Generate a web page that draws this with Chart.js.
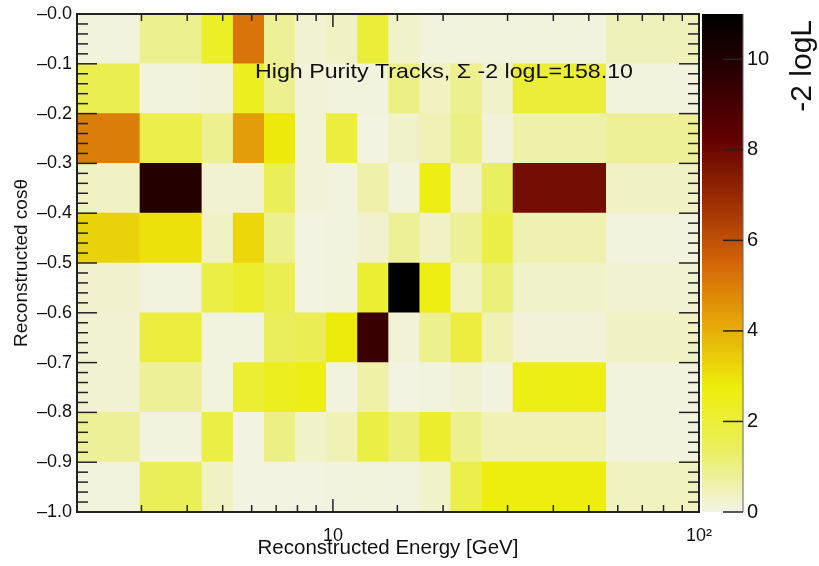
<!DOCTYPE html>
<html>
<head>
<meta charset="utf-8">
<script src="https://cdn.jsdelivr.net/npm/chart.js@4.4.1/dist/chart.umd.min.js"></script>
<style>
  html, body { margin: 0; padding: 0; background: #fff; }
  #wrap { width: 819px; height: 566px; }
</style>
</head>
<body>
<div id="wrap"><canvas id="heatmap" width="819" height="566"></canvas></div>
<script>
// rows of reconstructed cos(theta), top (-0.0..-0.1) to bottom (-0.9..-1.0)
const cosRows = ['-0.05', '-0.15', '-0.25', '-0.35', '-0.45', '-0.55', '-0.65', '-0.75', '-0.85', '-0.95'];

// reconstructed energy bin edges [GeV]
const energyEdges = [2, 2.96, 4.37, 5.32, 6.47, 7.86, 9.56, 11.63, 14.14, 17.2, 20.91, 25.43, 30.92, 55.61, 100];

// -2 logL per cell, one array per cos row, one value per energy bin
const row0 = [0.1, 0.9, 2.3, 5.2, 0.8, 0.2, 0.35, 2.0, 0.3, 0.1, 0.1, 0.1, 0.1, 0.45];
const row1 = [1.6, 0.1, 0.15, 2.45, 0.9, 0.15, 0.1, 0.1, 1.0, 0.4, 0.9, 0.3, 2.0, 0.1];
const row2 = [5.0, 1.7, 0.9, 4.35, 2.85, 0.15, 1.9, 0.05, 0.3, 0.5, 1.0, 0.15, 0.6, 0.8];
const row3 = [0.35, 9.9, 0.2, 0.2, 1.5, 0.15, 0.1, 0.6, 0.1, 2.6, 0.25, 1.35, 7.85, 0.35];
const row4 = [3.3, 3.0, 0.35, 3.2, 0.9, 0.05, 0.1, 0.25, 0.8, 0.35, 0.8, 1.8, 0.55, 0.1];
const row5 = [0.25, 0.08, 1.8, 2.2, 1.6, 0.05, 0.1, 2.1, 11.0, 2.65, 0.4, 1.1, 0.3, 0.2];
const row6 = [0.2, 1.9, 0.08, 0.08, 1.4, 1.55, 2.8, 9.35, 0.15, 0.9, 1.9, 0.5, 0.15, 0.35];
const row7 = [0.2, 0.8, 0.1, 2.1, 2.4, 2.6, 0.08, 0.65, 0.05, 0.08, 0.2, 0.08, 2.6, 0.1];
const row8 = [0.8, 0.1, 1.8, 0.05, 1.0, 0.3, 0.5, 1.8, 1.1, 2.2, 0.9, 0.5, 0.5, 0.1];
const row9 = [0.1, 1.5, 0.35, 0.05, 0.05, 0.05, 0.08, 0.1, 0.08, 0.3, 1.7, 2.7, 2.7, 0.4];
const logL = [row0, row1, row2, row3, row4, row5, row6, row7, row8, row9];

// colour axis
const zMax = 11;
const zTicks = [0, 2, 4, 6, 8, 10];
const paletteStops = [0, 0.125, 0.25, 0.375, 0.5, 0.625, 0.75, 0.875, 1];
const paletteColors = [
  [242, 243, 230], [234, 238, 95], [237, 238, 11], [230, 168, 8], [212, 101, 9],
  [156, 45, 3], [99, 0, 1], [45, 0, 1], [0, 0, 0]
];

const rgb = c => `rgb(${c[0]},${c[1]},${c[2]})`;

function colorFor(v) {
  let t = Math.min(Math.max(v / zMax, 0), 1);
  for (let i = 1; i < paletteStops.length; i++) {
    if (t <= paletteStops[i]) {
      const f = (t - paletteStops[i - 1]) / (paletteStops[i] - paletteStops[i - 1]);
      const a = paletteColors[i - 1], b = paletteColors[i];
      return rgb([0, 1, 2].map(k => Math.round(a[k] + (b[k] - a[k]) * f)));
    }
  }
  return rgb(paletteColors[paletteColors.length - 1]);
}

// one floating-bar dataset per energy bin
const datasets = [];
for (let c = 0; c < energyEdges.length - 1; c++) {
  datasets.push({
    label: 'E bin ' + c,
    data: logL.map(() => [energyEdges[c], energyEdges[c + 1]]),
    backgroundColor: logL.map(r => colorFor(r[c])),
    borderWidth: 0,
    grouped: false,
    barPercentage: 1,
    categoryPercentage: 1
  });
}

const FONT = "'Liberation Sans', Arial, Helvetica, sans-serif";

// frame, inward ticks, text label and colour bar
const framePlugin = {
  id: 'frame',
  afterDatasetsDraw(chart) {
    const {ctx, chartArea: a, scales} = chart;
    const line = (x1, y1, x2, y2) => { ctx.beginPath(); ctx.moveTo(x1, y1); ctx.lineTo(x2, y2); ctx.stroke(); };
    ctx.save();
    ctx.strokeStyle = '#222';
    ctx.lineWidth = 1.5;

    scales.x.ticks.forEach(t => {
      if (t.value <= scales.x.min || t.value >= scales.x.max) return;
      const px = scales.x.getPixelForValue(t.value);
      const len = (t.value === 10) ? 13 : 7;
      line(px, a.bottom, px, a.bottom - len);
      line(px, a.top, px, a.top + len);
    });

    for (let i = 1; i < 50; i++) {
      const py = scales.yv.getPixelForValue(-1 + i * 0.02);
      const len = (i % 5 === 0) ? 20 : 11;
      line(a.left, py, a.left + len, py);
      line(a.right, py, a.right - len, py);
    }

    ctx.lineWidth = 2;
    ctx.strokeRect(a.left, a.top, a.right - a.left, a.bottom - a.top);

    // label inside the frame (the reference text runs a little wide)
    const label = 'High Purity Tracks, \u03A3 -2 logL=158.10';
    ctx.fillStyle = '#111';
    ctx.font = '21px ' + FONT;
    ctx.textBaseline = 'alphabetic';
    ctx.textAlign = 'left';
    const sx = 378 / ctx.measureText(label).width;
    ctx.save();
    ctx.translate(a.left + 178, a.top + 64);
    ctx.scale(sx, 1);
    ctx.fillText(label, 0, 0);
    ctx.restore();

    // colour bar
    const cb = scales.cb;
    const x0 = a.right + 3, x1 = a.right + 44;
    const yLo = cb.getPixelForValue(0), yHi = cb.getPixelForValue(zMax);
    const grad = ctx.createLinearGradient(0, yLo, 0, yHi);
    paletteStops.forEach((s, i) => grad.addColorStop(s, rgb(paletteColors[i])));
    ctx.fillStyle = grad;
    ctx.fillRect(x0, yHi, x1 - x0, yLo - yHi);
    ctx.strokeStyle = '#666';
    ctx.lineWidth = 1;
    line(x1, yHi, x1, yLo);
    ctx.strokeStyle = '#222';
    ctx.lineWidth = 1.5;
    zTicks.forEach(v => {
      const py = cb.getPixelForValue(v);
      line(x1 - 20, py, x1, py);
    });

    // colour bar title
    ctx.translate(811, yHi + 6);
    ctx.rotate(-Math.PI / 2);
    ctx.font = '30px ' + FONT;
    ctx.fillStyle = '#111';
    ctx.textAlign = 'right';
    ctx.textBaseline = 'alphabetic';
    ctx.fillText('-2 logL', 0, 0);
    ctx.restore();
  }
};

Chart.defaults.font.family = FONT;
Chart.defaults.color = '#111';

new Chart(document.getElementById('heatmap'), {
  type: 'bar',
  data: { labels: cosRows, datasets: datasets },
  plugins: [framePlugin],
  options: {
    indexAxis: 'y',
    responsive: false,
    animation: false,
    events: [],
    layout: { padding: { top: 14, left: 0, right: 0, bottom: 0 } },
    plugins: { legend: { display: false }, tooltip: { enabled: false } },
    scales: {
      x: {
        type: 'logarithmic',
        position: 'bottom',
        min: 2,
        max: 100,
        offset: false,
        grid: { display: false, tickLength: 8 },
        border: { display: false },
        ticks: {
          autoSkip: false,
          maxRotation: 0,
          padding: 5,
          font: { size: 18 },
          callback: v => (v === 10 ? '10' : (v === 100 ? '10\u00B2' : ''))
        },
        title: {
          display: true,
          text: 'Reconstructed Energy [GeV]',
          font: { size: 20.5, lineHeight: 1.2 },
          padding: { top: 0, bottom: 5 }
        },
        afterFit: s => { s.height = 54; }
      },
      y: { type: 'category', display: false },
      yv: {
        type: 'linear',
        position: 'left',
        min: -1,
        max: 0,
        offset: false,
        grid: { display: false, tickLength: 5 },
        border: { display: false },
        ticks: {
          stepSize: 0.1,
          padding: 0,
          font: { size: 18 },
          callback: v => '\u2013' + Math.abs(v).toFixed(1)
        },
        title: {
          display: true,
          text: 'Reconstructed cos\u03B8',
          font: { size: 19, lineHeight: 1.2 },
          padding: { top: 10, bottom: 0 }
        },
        afterFit: s => { s.width = 77; }
      },
      cb: {
        type: 'linear',
        position: 'right',
        min: 0,
        max: zMax,
        offset: false,
        grid: { display: false, tickLength: 48 },
        border: { display: false },
        ticks: {
          stepSize: 2,
          includeBounds: false,
          padding: 0,
          font: { size: 20 }
        },
        afterFit: s => { s.width = 120; }
      }
    }
  }
});
</script>
</body>
</html>
